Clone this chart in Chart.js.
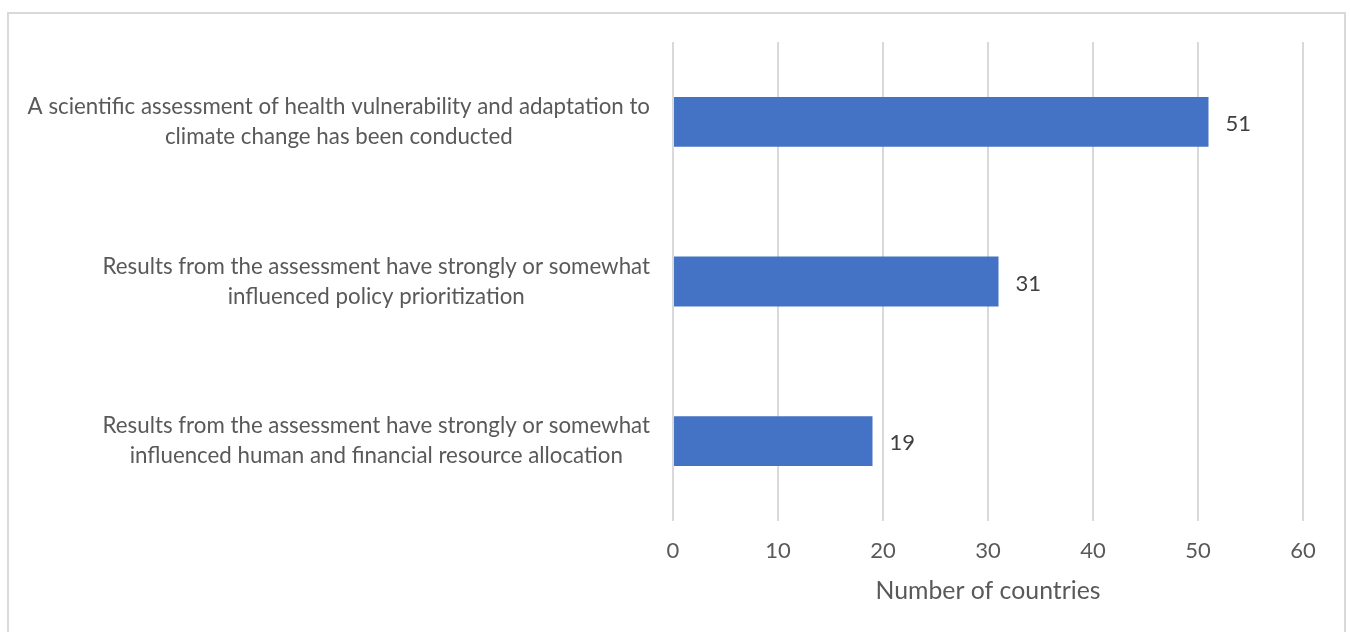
<!DOCTYPE html>
<html>
<head>
<meta charset="utf-8">
<script src="https://cdn.jsdelivr.net/npm/chart.js@4/dist/chart.umd.min.js"></script>
<style>
  html, body { margin: 0; padding: 0; background: #ffffff; }
  #wrap { position: relative; width: 1350px; height: 632px; overflow: hidden; }
  #frame {
    position: absolute; left: 7px; top: 12px; width: 1335px; height: 660px;
    border: 2px solid #d9d9d9; pointer-events: none;
  }
  canvas { position: absolute; left: 0; top: 0; }
</style>
</head>
<body>
<div id="wrap">
  <canvas id="chart" width="1350" height="632"></canvas>
  <div id="frame"></div>
</div>
<script>
// Category labels, one array of lines per bar
const categories = [
  ["A scientific assessment of health vulnerability and adaptation to", "climate change has been conducted"],
  ["Results from the assessment have strongly or somewhat", "influenced policy prioritization"],
  ["Results from the assessment have strongly or somewhat", "influenced human and financial resource allocation"]
];
const countries = [51, 31, 19];
const xTicks = [0, 10, 20, 30, 40, 50, 60];
const xTitle = "Number of countries";

const FONT = "Lato, 'Liberation Sans', sans-serif";
const TEXT = "#595959";

// Multi-line category labels: each block right-aligned to the axis, lines centred within the block
const categoryLabels = {
  id: 'categoryLabels',
  afterDraw(chart) {
    const { ctx, scales: { y } } = chart;
    ctx.save();
    ctx.font = "22.3px " + FONT;
    ctx.fillStyle = TEXT;
    ctx.textAlign = 'center';
    ctx.textBaseline = 'middle';
    const right = 650, lineH = 30;
    categories.forEach((lines, i) => {
      const cy = y.getPixelForValue(i);
      const w = Math.max(...lines.map(l => ctx.measureText(l).width));
      const cx = right - w / 2;
      lines.forEach((l, k) => {
        ctx.fillText(l, cx, cy + (k - (lines.length - 1) / 2) * lineH);
      });
    });
    ctx.restore();
  }
};

// Value labels just past the end of each bar
const valueLabels = {
  id: 'valueLabels',
  afterDatasetsDraw(chart) {
    const { ctx } = chart;
    const meta = chart.getDatasetMeta(0);
    ctx.save();
    ctx.font = "22px " + FONT;
    ctx.fillStyle = "#404040";
    ctx.textAlign = 'left';
    ctx.textBaseline = 'middle';
    meta.data.forEach((bar, i) => {
      ctx.fillText(String(countries[i]), bar.x + 17, bar.y + 2);
    });
    ctx.restore();
  }
};

new Chart(document.getElementById('chart'), {
  type: 'bar',
  data: {
    labels: categories.map(l => l.join(' ')),
    datasets: [{
      data: countries,
      backgroundColor: '#4472c4',
      borderWidth: 0,
      categoryPercentage: 1,
      barPercentage: 0.3125
    }]
  },
  options: {
    indexAxis: 'y',
    responsive: false,
    animation: false,
    layout: { padding: { top: 42, right: 47, left: 0, bottom: 0 } },
    plugins: { legend: { display: false }, tooltip: { enabled: false } },
    scales: {
      y: {
        ticks: { display: false },
        grid: { display: false },
        border: { display: false },
        afterFit(scale) { scale.width = 673; }
      },
      x: {
        min: 0, max: 60,
        afterBuildTicks(scale) { scale.ticks = xTicks.map(v => ({ value: v })); },
        ticks: { color: TEXT, font: { family: FONT, size: 22 }, padding: 17 },
        grid: { color: '#d9d9d9', lineWidth: 2, drawTicks: false },
        border: { display: false },
        title: {
          display: true, text: xTitle, color: TEXT,
          font: { family: FONT, size: 24.8 },
          padding: { top: 0, bottom: 26 }
        },
        afterFit(scale) { scale.height = 111; }
      }
    }
  },
  plugins: [categoryLabels, valueLabels]
});
</script>
</body>
</html>
